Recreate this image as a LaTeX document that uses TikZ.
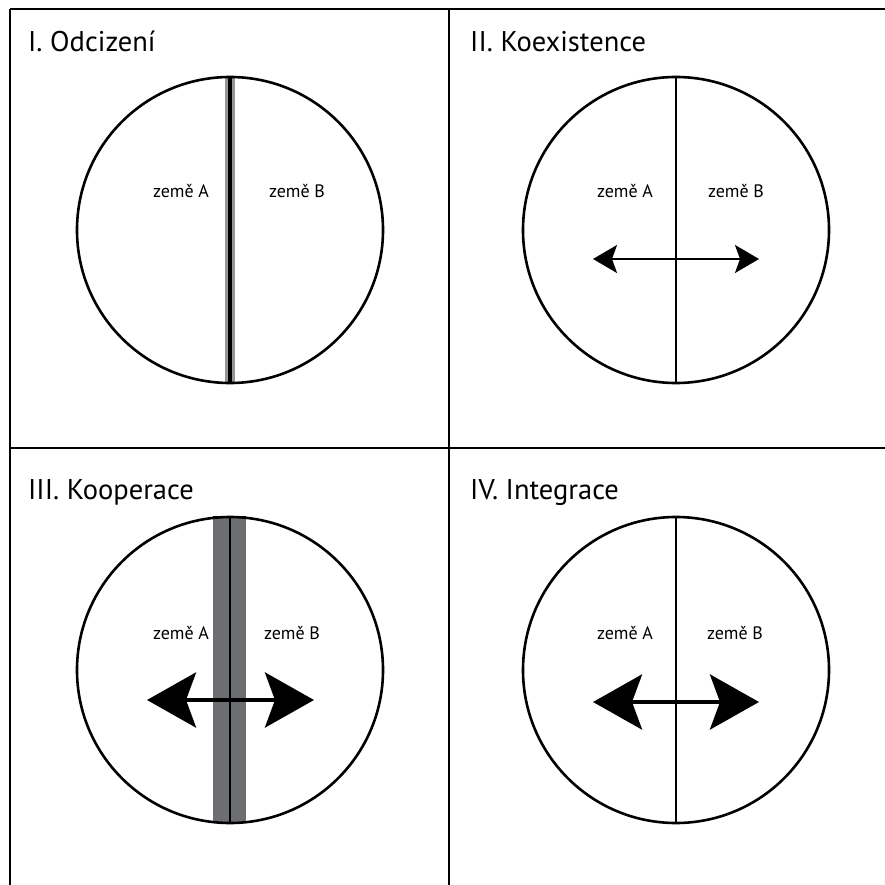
\documentclass[tikz,border=0pt]{standalone}
\usepackage{fontspec}
\setmainfont{PT Sans}
\usetikzlibrary{arrows.meta}

\tikzset{
  frame/.style={black, line width=2pt},
  ring/.style={black, line width=2.6pt},
  title/.style={anchor=base west, inner sep=0pt, font=\fontsize{28.5}{30}\selectfont},
  land/.style={anchor=base, inner sep=0pt, font=\fontsize{18}{20}\selectfont},
  smallarrow/.style={black, line width=2pt, {Stealth[length=24pt,width=28pt,inset=5pt]}-{Stealth[length=24pt,width=28pt,inset=5pt]}},
  bigarrow/.style={black, line width=4.5pt, {Stealth[length=49pt,width=55pt,inset=10pt]}-{Stealth[length=49pt,width=55pt,inset=10pt]}}
}
\definecolor{bandgray}{RGB}{109,110,113}
\definecolor{edgegray}{RGB}{150,150,150}

\begin{document}
\begin{tikzpicture}[x=1pt, y=-1pt]
\useasboundingbox (0,0) rectangle (885,885);
%grid
\draw[frame] (10,9) -- (885,9); %top
\draw[frame] (10,448) -- (885,448); %middle
\draw[frame] (10,9) -- (10,885); %left
\draw[frame] (449,9) -- (449,885); %middle
%centres
\coordinate (cI) at (230,230);
\coordinate (cII) at (676,230);
\coordinate (cIII) at (230,670);
\coordinate (cIV) at (676,670);

%I
\node[title] (tI) at (28,52) {I. Odcizení};
\fill[edgegray] ([xshift=-5pt,yshift=153pt]cI) rectangle ([xshift=5pt,yshift=-153pt]cI);
\draw[black, line width=4pt] ([yshift=153pt]cI) -- ([yshift=-153pt]cI);
\draw[ring] (cI) circle (153);
\node[land] (aI) at (181,198) {země A};
\node[land] (bI) at (297,198) {země B};

%II
\node[title] (tII) at (470,52) {II. Koexistence};
\draw[black, line width=2pt] ([yshift=153pt]cII) -- ([yshift=-153pt]cII);
\draw[ring] (cII) circle (153);
\node[land] (aII) at (625,198) {země A};
\node[land] (bII) at (736,198) {země B};
\coordinate (lII) at (593,259);
\coordinate (rII) at (759,259);
\draw[smallarrow] (lII) -- (rII);

%III
\node[title] (tIII) at (28,499) {III. Kooperace};
\fill[bandgray] (213,517) rectangle (246,823);
\draw[black, line width=2pt] (213,517) -- (246,517); %cap
\draw[black, line width=2pt] (230,517) -- (230,823);
\draw[ring] (cIII) circle (153);
\node[land] (aIII) at (181,639) {země A};
\node[land] (bIII) at (292,639) {země B};
\coordinate (lIII) at (147,700);
\coordinate (rIII) at (314,700);
\draw[bigarrow] (lIII) -- (rIII);

%IV
\node[title] (tIV) at (470,499) {IV. Integrace};
\draw[black, line width=2pt] ([yshift=153pt]cIV) -- ([yshift=-153pt]cIV);
\draw[ring] (cIV) circle (153);
\node[land] (aIV) at (625,639) {země A};
\node[land] (bIV) at (735,639) {země B};
\coordinate (lIV) at (593,702);
\coordinate (rIV) at (759,702);
\draw[bigarrow] (lIV) -- (rIV);

\end{tikzpicture}
\end{document}
